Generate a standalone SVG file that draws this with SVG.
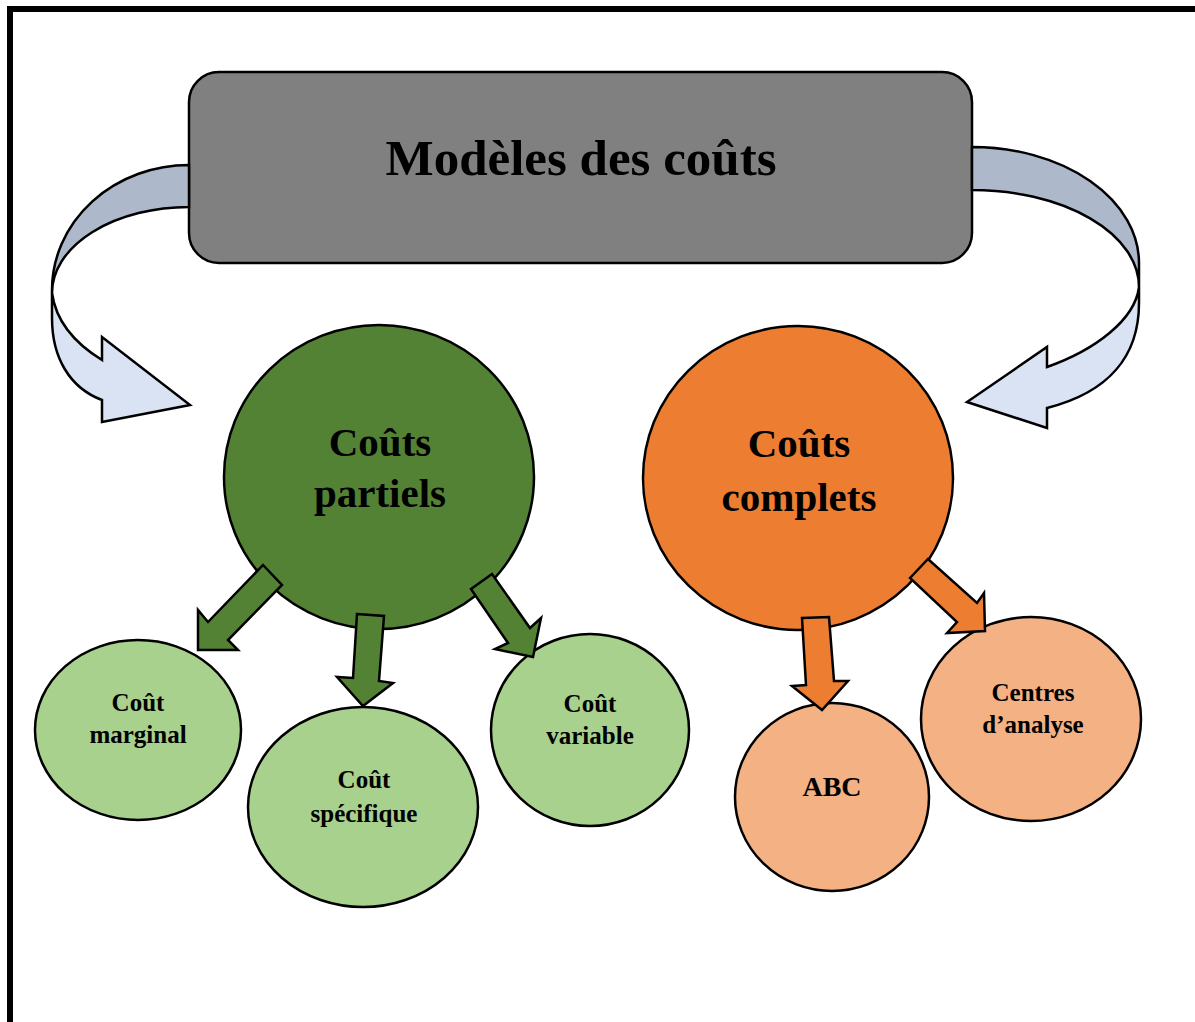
<svg xmlns="http://www.w3.org/2000/svg" width="1195" height="1022" viewBox="0 0 1195 1022">
<style>
.ln{stroke:#000;stroke-width:2.5;stroke-linejoin:miter}
.t{font-family:"Liberation Serif","Times New Roman",serif;font-weight:bold;text-anchor:middle;fill:#000}
.big{font-size:41px}
.sm{font-size:25px}
.back{fill:#ADB9CA}
.front{fill:#DAE3F3}
.g{fill:#548235}
.o{fill:#ED7D31}
.lg{fill:#A9D18E}
.lo{fill:#F4B183}
</style>
<rect x="0" y="0" width="1195" height="1022" fill="#fff"/>
<g id="border" fill="#000">
<rect x="7" y="6" width="1188" height="6"/>
<rect x="7" y="6" width="6" height="1016"/>
</g>
<g id="title">
<rect class="ln" x="189" y="72" width="783" height="191" rx="30" fill="#808080"/>
<text class="t" x="581" y="175" font-size="51">Modèles des coûts</text>
</g>
<g id="couts-partiels">
<ellipse class="ln g" cx="379" cy="477" rx="155" ry="152"/>
<text class="t big" x="380" y="456">Coûts</text>
<text class="t big" x="380" y="507">partiels</text>
</g>
<g id="couts-complets">
<ellipse class="ln o" cx="798" cy="478" rx="155" ry="152"/>
<text class="t big" x="799" y="457">Coûts</text>
<text class="t big" x="799" y="511">complets</text>
</g>
<g id="cout-marginal">
<ellipse class="ln lg" cx="138" cy="730" rx="103" ry="90"/>
<text class="t sm" x="138" y="711">Coût</text>
<text class="t sm" x="138" y="743">marginal</text>
</g>
<g id="cout-specifique">
<ellipse class="ln lg" cx="363" cy="807" rx="115" ry="100"/>
<text class="t sm" x="364" y="788">Coût</text>
<text class="t sm" x="364" y="822">spécifique</text>
</g>
<g id="cout-variable">
<ellipse class="ln lg" cx="590" cy="730" rx="99" ry="96"/>
<text class="t sm" x="590" y="712">Coût</text>
<text class="t sm" x="590" y="744">variable</text>
</g>
<g id="abc">
<ellipse class="ln lo" cx="832" cy="797" rx="97" ry="94"/>
<text class="t" x="832" y="796" font-size="28">ABC</text>
</g>
<g id="centres-analyse">
<ellipse class="ln lo" cx="1031" cy="719" rx="110" ry="102"/>
<text class="t sm" x="1033" y="701">Centres</text>
<text class="t sm" x="1033" y="733">d’analyse</text>
</g>
<g id="connectors">
<path class="ln back" d="M189,165 A137,125 0 0 0 52,290 L52,293 A137,86 0 0 1 189,207 Z"/>
<path class="ln front" d="M52,293 C56,322 76,344 102,360 L102,337 L190,405 L102,422 L102,400 C70,388 52,358 52,318 Z"/>
<path class="ln back" d="M972,147 A167,116 0 0 1 1139,263 L1139,287 A167,97 0 0 0 972,190 Z"/>
<path class="ln front" d="M1139,287 C1135,320 1095,350 1047,367 L1047,347 L967,402 L1047,428 L1047,408 C1110,392 1139,355 1139,303 Z"/>
<polygon class="ln g" points="263,565 282,585 228,640 238,650 198,650 198,610 208,622"/>
<polygon class="ln g" points="357,614 384,616 379,681 393,683 363,706 337,677 353,678"/>
<polygon class="ln g" points="471,589 492,574 530,628 541,618 533,657 495,649 508,643"/>
<polygon class="ln o" points="802,618 829,617 834,681 848,681 822,710 792,686 806,685"/>
<polygon class="ln o" points="910,578 928,559 977,603 984,593 985,631 947,633 957,622"/>
</g>
</svg>
